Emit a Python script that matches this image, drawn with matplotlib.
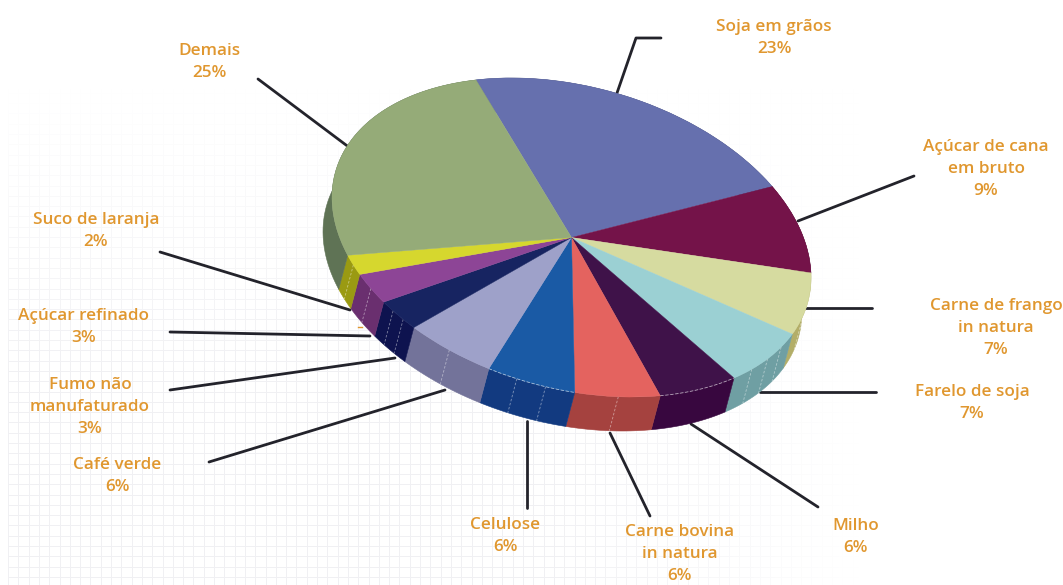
import numpy as np
import matplotlib
matplotlib.use('Agg')
import matplotlib.pyplot as plt
from matplotlib.patches import Wedge, Polygon
from matplotlib.transforms import Affine2D

# --- Dados ---
categories = ['Soja em grãos', 'Açúcar de cana\nem bruto', 'Carne de frango\nin natura',
              'Farelo de soja', 'Milho', 'Carne bovina\nin natura', 'Celulose', 'Café verde',
              'Fumo não\nmanufaturado', 'Açúcar refinado', 'Suco de laranja', 'Demais']
shares = [23, 9, 7, 7, 6, 6, 6, 6, 3, 3, 2, 25]

# --- Estilo ---
top_colors = ['#6670ae', '#741349', '#d6dba0', '#9bd0d3', '#3f1249', '#e4635f',
              '#1a5aa5', '#9ea1c9', '#172461', '#8d4596', '#d6d72e', '#95ab78']
side_colors = ['#4a5280', '#560e36', '#b3ae68', '#6f9fa3', '#38073f', '#a5423f',
               '#123a80', '#73739a', '#0e134f', '#6a2f6f', '#9a9a12', '#5f7355']
wall_dashes = [0, 0, 2, 3, 0, 1, 2, 1, 2, 1, 1, 0]
rim_dashed = [4, 6]
label_xy = [(774, 38), (986, 169), (996, 328), (972, 403), (856, 537), (680, 554),
            (505, 536), (117, 476), (90, 407), (84, 327), (96, 231), (209, 62)]
# guias: (x, y) em pixels da imagem
leaders = [[(661, 38), (636, 38), (617, 93)], [(914, 176), (798, 221)], [(872, 308), (806, 308)],
           [(876, 392), (760, 392)], [(818, 507), (691, 424)], [(650, 516), (610, 433)],
           [(527, 508), (527, 421)], [(209, 462), (445, 390)], [(170, 390), (395, 358)],
           [(170, 332), (370, 336)], [(160, 252), (350, 310)], [(258, 79), (350, 148)]]
ORANGE = '#e0972f'
START_ANGLE = 113.5
CX, CY = 571.5, 237.5
A, B, RHO = 239.5, 159.5, 0.25
DEPTH = (-9, 34)

fig = plt.figure(figsize=(10.63, 5.85), dpi=100)
ax = fig.add_axes([0, 0, 1, 1])
ax.set_xlim(0, 1063)
ax.set_ylim(585, 0)
ax.axis('off')

# --- Grade de fundo que desaparece para cima e para a direita ---
for gx in np.arange(8, 900, 10.3):
    ax.plot([gx, gx], [60, 585], color='#f0f0f3', lw=0.7, zorder=1)
for gy in np.arange(62, 585, 10.3):
    ax.plot([8, 900], [gy, gy], color='#f0f0f3', lw=0.7, zorder=1)
xx, yy = np.meshgrid(np.linspace(0, 1063, 300), np.linspace(0, 585, 200))
visible = np.clip((yy - 90) / 300, 0, 1) * np.clip((860 - xx) / 320, 0, 1)
fade = np.ones(xx.shape + (4,))
fade[..., 3] = 1 - visible
ax.imshow(fade, extent=(0, 1063, 585, 0), aspect='auto', zorder=2, interpolation='bilinear')
ax.set_xlim(0, 1063)
ax.set_ylim(585, 0)

# --- Guias ---
for pts in leaders:
    xs, ys = zip(*pts)
    ax.plot(xs, ys, color='#23232b', lw=2, solid_capstyle='round', zorder=3)
ax.plot([358, 362], [327, 327], color=ORANGE, lw=1.0, zorder=3)

# --- Pizza em perspectiva: círculo unitário levado à elipse inclinada ---
skew = Affine2D.from_values(A, RHO * B, 0, -np.sqrt(1 - RHO ** 2) * B, CX, CY)
angles = START_ANGLE - np.cumsum([0] + shares) / sum(shares) * 360


def rim(t1, t2, n=60):
    t = np.radians(np.linspace(t1, t2, n))
    return skew.transform(np.column_stack([np.cos(t), np.sin(t)]))


# paredes laterais primeiro
for i in range(len(shares)):
    top = rim(angles[i + 1], angles[i])
    wall = np.vstack([top, (top + DEPTH)[::-1]])
    ax.add_patch(Polygon(wall, closed=True, fc=side_colors[i], ec=side_colors[i], lw=0.4, zorder=4))
    # tracejados claros sobre a parede
    for k in range(wall_dashes[i]):
        frac = (k + 1) / (wall_dashes[i] + 1)
        p = rim(angles[i + 1] + frac * (angles[i] - angles[i + 1]), angles[i], 2)[0]
        ax.plot([p[0], p[0] + DEPTH[0]], [p[1], p[1] + DEPTH[1]], color='white', lw=0.6,
                ls=(0, (3, 2)), alpha=0.45, zorder=5)

# face superior
for i in range(len(shares)):
    ax.add_patch(Wedge((0, 0), 1, angles[i + 1], angles[i], fc=top_colors[i], ec=top_colors[i],
                       lw=0.3, transform=skew + ax.transData, zorder=6))

# borda tracejada de algumas fatias
for i in rim_dashed:
    edge = rim(angles[i + 1], angles[i])
    ax.plot(edge[:, 0], edge[:, 1], color='white', lw=0.6, ls=(0, (4, 2)), alpha=0.6, zorder=7)

# --- Rótulos ---
for name, share, (x, y) in zip(categories, shares, label_xy):
    ax.text(x, y, f'{name}\n{share}%', color=ORANGE, fontsize=12.3, family='Open Sans',
            weight='semibold', ha='center', va='center', linespacing=1.5, zorder=8)

fig.savefig('out.png', dpi=100)
